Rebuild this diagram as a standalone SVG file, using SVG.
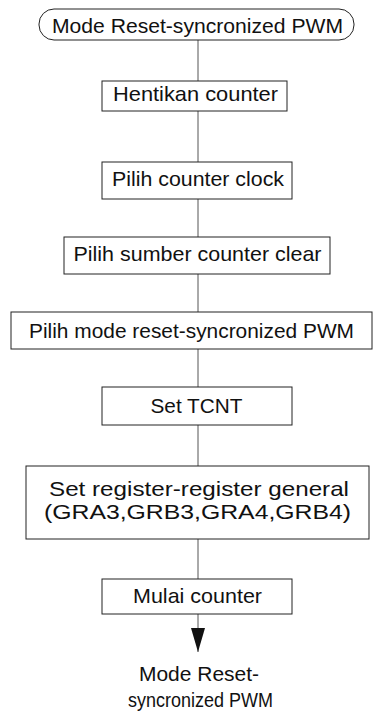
<svg xmlns="http://www.w3.org/2000/svg" width="373" height="713" viewBox="0 0 373 713">
<style>
.box{fill:#fff;stroke:#222;stroke-width:1}
.t{font-family:"Liberation Sans",Arial,sans-serif;font-size:21px;fill:#111;text-anchor:middle}
.c{stroke:#555;stroke-width:1;fill:none}
</style>
<defs>
<marker id="ah" markerWidth="24" markerHeight="14" refX="24" refY="7" orient="auto" markerUnits="userSpaceOnUse" viewBox="0 0 24 14">
<path d="M0,0 L24,7 L0,14 Z" fill="#111"/>
</marker>
</defs>
<rect width="373" height="713" fill="#fff"/>
<g id="connectors">
<line class="c" x1="198" y1="40" x2="198" y2="81"/>
<line class="c" x1="198" y1="111" x2="198" y2="162"/>
<line class="c" x1="198" y1="199" x2="198" y2="237"/>
<line class="c" x1="198" y1="274" x2="198" y2="312"/>
<line class="c" x1="198" y1="349" x2="198" y2="387"/>
<line class="c" x1="198" y1="425" x2="198" y2="466"/>
<line class="c" x1="198" y1="539" x2="198" y2="579"/>
<line class="c" x1="198" y1="614" x2="198" y2="652" marker-end="url(#ah)"/>
</g>
<g id="start">
<rect class="box" x="39" y="9" width="315" height="31" rx="15" ry="15"/>
<text class="t" x="197.5" y="33" textLength="291" lengthAdjust="spacingAndGlyphs">Mode Reset-syncronized PWM</text>
</g>
<g id="n1">
<rect class="box" x="102" y="81" width="185" height="30"/>
<text class="t" x="195.5" y="101" textLength="165" lengthAdjust="spacingAndGlyphs">Hentikan counter</text>
</g>
<g id="n2">
<rect class="box" x="102" y="162" width="190" height="37"/>
<text class="t" x="198" y="186" textLength="172" lengthAdjust="spacingAndGlyphs">Pilih counter clock</text>
</g>
<g id="n3">
<rect class="box" x="64" y="237" width="266" height="37"/>
<text class="t" x="197.5" y="261" textLength="248" lengthAdjust="spacingAndGlyphs">Pilih sumber counter clear</text>
</g>
<g id="n4">
<rect class="box" x="11" y="312" width="361" height="37"/>
<text class="t" x="191.5" y="338" textLength="325" lengthAdjust="spacingAndGlyphs">Pilih mode reset-syncronized PWM</text>
</g>
<g id="n5">
<rect class="box" x="102" y="387" width="190" height="38"/>
<text class="t" x="196.5" y="413" textLength="92" lengthAdjust="spacingAndGlyphs">Set TCNT</text>
</g>
<g id="n6">
<rect class="box" x="26" y="466" width="343" height="73"/>
<text class="t" x="199" y="496" textLength="300" lengthAdjust="spacingAndGlyphs">Set register-register general</text>
<text class="t" x="197.5" y="519" textLength="307" lengthAdjust="spacingAndGlyphs">(GRA3,GRB3,GRA4,GRB4)</text>
</g>
<g id="n7">
<rect class="box" x="102" y="579" width="190" height="35"/>
<text class="t" x="197.5" y="603" textLength="129" lengthAdjust="spacingAndGlyphs">Mulai counter</text>
</g>
<g id="end">
<text class="t" x="199" y="681" textLength="120" lengthAdjust="spacingAndGlyphs">Mode Reset-</text>
<text class="t" x="200.5" y="707" textLength="145" lengthAdjust="spacingAndGlyphs">syncronized PWM</text>
</g>
</svg>
